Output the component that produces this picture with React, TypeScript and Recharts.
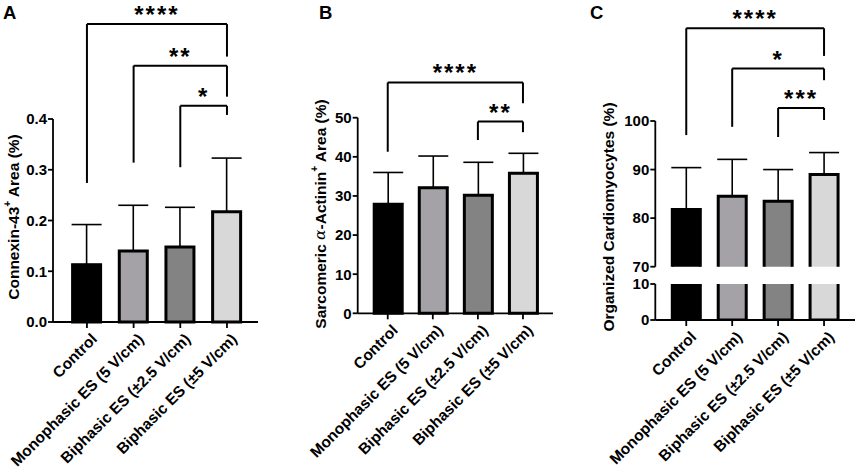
import React from "react";
import { Bar, BarChart, Cell, ErrorBar, ReferenceLine, XAxis, YAxis } from "recharts";

const GROUPS = [
  "Control",
  "Monophasic ES (5 V/cm)",
  "Biphasic ES (±2.5 V/cm)",
  "Biphasic ES (±5 V/cm)",
];
const GROUP_FILLS = ["#000000", "#a4a2a7", "#838383", "#d8d8d8"];

// A: connexin-43
const CONNEXIN_MEAN = [0.113, 0.14, 0.148, 0.217];
const CONNEXIN_SD = [0.079, 0.09, 0.078, 0.106];
const CONNEXIN_TICKS = [0, 0.1, 0.2, 0.3, 0.4];

// B: sarcomeric alpha-actinin
const ACTININ_MEAN = [27.9, 32.1, 30.2, 35.8];
const ACTININ_SD = [8.1, 8.1, 8.4, 5.1];
const ACTININ_TICKS = [0, 10, 20, 30, 40, 50];

// C: organized cardiomyocytes (broken axis)
const ORGANIZED_MEAN = [81.8, 84.5, 83.5, 89.0];
const ORGANIZED_SD = [8.6, 7.6, 6.5, 4.5];
const ORGANIZED_TICKS_TOP = [70, 80, 90, 100];
const ORGANIZED_TICKS_BOTTOM = [0, 10];

type Bracket = {
  from: number;
  to: number;
  level: number;
  fromEnd: number;
  toEnd: number;
  stars: string;
};

const CONNEXIN_BRACKETS: Bracket[] = [
  { from: 0, to: 3, level: 0.587, fromEnd: 0.274, toEnd: 0.523, stars: "****" },
  { from: 1, to: 3, level: 0.505, fromEnd: 0.314, toEnd: 0.444, stars: "**" },
  { from: 2, to: 3, level: 0.426, fromEnd: 0.305, toEnd: 0.408, stars: "*" },
];
const ACTININ_BRACKETS: Bracket[] = [
  { from: 0, to: 3, level: 59.0, fromEnd: 41.3, toEnd: 53.7, stars: "****" },
  { from: 2, to: 3, level: 49.0, fromEnd: 44.3, toEnd: 46.3, stars: "**" },
];
const ORGANIZED_BRACKETS: Bracket[] = [
  { from: 0, to: 3, level: 119.1, fromEnd: 97.1, toEnd: 113.4, stars: "****" },
  { from: 1, to: 3, level: 110.8, fromEnd: 98.8, toEnd: 108.4, stars: "*" },
  { from: 2, to: 3, level: 102.7, fromEnd: 96.7, toEnd: 100.2, stars: "***" },
];

const FONT = '"Liberation Sans", Arial, sans-serif';
const TICK_STYLE = { fontSize: 15, fontWeight: 700, fill: "#000", fontFamily: FONT };
const AXIS_LINE = { stroke: "#000", strokeWidth: 1.8 };

const rows = (mean: number[], sd: number[]) =>
  GROUPS.map((name, i) => ({ name, mean: mean[i], err: [0, sd[i]] }));

function GroupTick(props: any) {
  const { x, y, payload } = props;
  const ax = x + 11;
  const ay = y + 10;
  return (
    <text
      x={ax}
      y={ay}
      transform={`rotate(-45 ${ax} ${ay})`}
      textAnchor="end"
      fontSize={15.5}
      fontWeight={700}
      fontFamily={FONT}
      fill="#000"
    >
      {payload.value}
    </text>
  );
}

function OpenBottomBar(props: any) {
  const { x, y, width, height, index } = props;
  if (!width || height == null) return null;
  return (
    <path
      d={`M${x},${y + height} V${y} H${x + width} V${y + height}`}
      fill={GROUP_FILLS[index] ?? props.fill}
      stroke="#000"
      strokeWidth={3}
    />
  );
}

function bracketLines(list: Bracket[], id: string) {
  const line = { stroke: "#000", strokeWidth: 2, ifOverflow: "visible" as const };
  return list.flatMap((b, i) => [
    <ReferenceLine
      key={`${id}-h${i}`}
      {...line}
      segment={[
        { x: GROUPS[b.from], y: b.level },
        { x: GROUPS[b.to], y: b.level },
      ]}
      label={{
        value: b.stars,
        position: "top",
        offset: 1,
        fontSize: 24,
        fontWeight: 700,
        fill: "#000",
        fontFamily: FONT,
        letterSpacing: 2,
      }}
    />,
    <ReferenceLine
      key={`${id}-l${i}`}
      {...line}
      segment={[
        { x: GROUPS[b.from], y: b.fromEnd },
        { x: GROUPS[b.from], y: b.level },
      ]}
    />,
    <ReferenceLine
      key={`${id}-r${i}`}
      {...line}
      segment={[
        { x: GROUPS[b.to], y: b.toEnd },
        { x: GROUPS[b.to], y: b.level },
      ]}
    />,
  ]);
}

export default function App() {
  const connexin = rows(CONNEXIN_MEAN, CONNEXIN_SD);
  const actinin = rows(ACTININ_MEAN, ACTININ_SD);
  const organized = rows(ORGANIZED_MEAN, ORGANIZED_SD);

  const xAxisProps = {
    dataKey: "name",
    type: "category" as const,
    interval: 0,
    axisLine: AXIS_LINE,
    tickLine: { stroke: "#000", strokeWidth: 1.8 },
    tickSize: 6,
    height: 100,
    tick: <GroupTick />,
  };
  const yAxisProps = {
    type: "number" as const,
    width: 40,
    axisLine: AXIS_LINE,
    tickLine: { stroke: "#000", strokeWidth: 1.8 },
    tickSize: 5,
    tickMargin: 1,
    tick: TICK_STYLE,
    interval: 0,
  };

  const bar = (key: string, withErr: boolean, shape?: any) => (
    <Bar
      key={key}
      dataKey="mean"
      barSize={28}
      stroke="#000"
      strokeWidth={3}
      isAnimationActive={false}
      shape={shape}
    >
      {GROUPS.map((g, i) => (
        <Cell key={g} fill={GROUP_FILLS[i]} />
      ))}
      {withErr && (
        <ErrorBar
          dataKey="err"
          direction="y"
          width={15}
          stroke="#000"
          strokeWidth={1.6}
          isAnimationActive={false}
        />
      )}
    </Bar>
  );

  return (
    <div
      style={{
        position: "absolute",
        left: 0,
        top: 0,
        width: 858,
        height: 470,
        background: "#fff",
        fontFamily: FONT,
        overflow: "hidden",
      }}
    >
      <div style={{ position: "absolute", left: 0, top: 0 }}>
        <BarChart
          width={275}
          height={470}
          data={connexin}
          margin={{ top: 119, right: 17, bottom: 48, left: 13 }}
        >
          <XAxis {...xAxisProps} padding={{ left: 10.6, right: 7.7 }} />
          <YAxis
            {...yAxisProps}
            domain={[0, 0.4]}
            ticks={CONNEXIN_TICKS}
            tickFormatter={(v: number) => v.toFixed(1)}
          />
          {bar("a", true)}
          {bracketLines(CONNEXIN_BRACKETS, "a")}
        </BarChart>
      </div>

      <div style={{ position: "absolute", left: 285, top: 0 }}>
        <BarChart
          width={280}
          height={470}
          data={actinin}
          margin={{ top: 117.7, right: 12, bottom: 56.7, left: 32.7 }}
        >
          <XAxis {...xAxisProps} padding={{ left: 7.5, right: 7.5 }} />
          <YAxis {...yAxisProps} domain={[0, 50]} ticks={ACTININ_TICKS} />
          {bar("b", true)}
          {bracketLines(ACTININ_BRACKETS, "b")}
        </BarChart>
      </div>

      <div style={{ position: "absolute", left: 575, top: 0 }}>
        <BarChart
          width={283}
          height={280}
          data={organized}
          margin={{ top: 121, right: 3, bottom: 13.3, left: 40.3 }}
        >
          <XAxis {...xAxisProps} hide padding={{ left: 8, right: 8 }} />
          <YAxis {...yAxisProps} domain={[70, 100]} ticks={ORGANIZED_TICKS_TOP} />
          {bar("c1", true, <OpenBottomBar />)}
          {bracketLines(ORGANIZED_BRACKETS, "c")}
        </BarChart>
      </div>

      <div style={{ position: "absolute", left: 575, top: 270 }}>
        <BarChart
          width={283}
          height={200}
          data={organized}
          margin={{ top: 14, right: 3, bottom: 50, left: 40.3 }}
        >
          <XAxis {...xAxisProps} padding={{ left: 8, right: 8 }} />
          <YAxis
            {...yAxisProps}
            domain={[0, 10]}
            ticks={ORGANIZED_TICKS_BOTTOM}
            allowDataOverflow
          />
          {bar("c2", false)}
        </BarChart>
      </div>

      <svg
        width={858}
        height={470}
        style={{ position: "absolute", left: 0, top: 0, pointerEvents: "none" }}
        fontFamily={FONT}
        fontWeight={700}
        fill="#000"
      >
        <text x={3} y={19} fontSize={18.5}>A</text>
        <text x={319} y={19} fontSize={18.5}>B</text>
        <text x={590} y={19} fontSize={18.5}>C</text>

        <text
          x={13}
          y={217}
          transform="rotate(-90 13 217)"
          textAnchor="middle"
          dominantBaseline="central"
          fontSize={15.5}
        >
          Connexin-43
          <tspan dy={-6} fontSize={10}>+</tspan>
          <tspan dy={6}> Area (%)</tspan>
        </text>
        <text
          x={320}
          y={214}
          transform="rotate(-90 320 214)"
          textAnchor="middle"
          dominantBaseline="central"
          fontSize={15.5}
        >
          Sarcomeric{" "}
          <tspan fontFamily='"DejaVu Serif", serif' fontStyle="italic" fontWeight={400}>
            α
          </tspan>
          -Actinin
          <tspan dy={-6} fontSize={10}>+</tspan>
          <tspan dy={6}> Area (%)</tspan>
        </text>
        <text
          x={608}
          y={217}
          transform="rotate(-90 608 217)"
          textAnchor="middle"
          dominantBaseline="central"
          fontSize={15.5}
        >
          Organized Cardiomyocytes (%)
        </text>
      </svg>
    </div>
  );
}
